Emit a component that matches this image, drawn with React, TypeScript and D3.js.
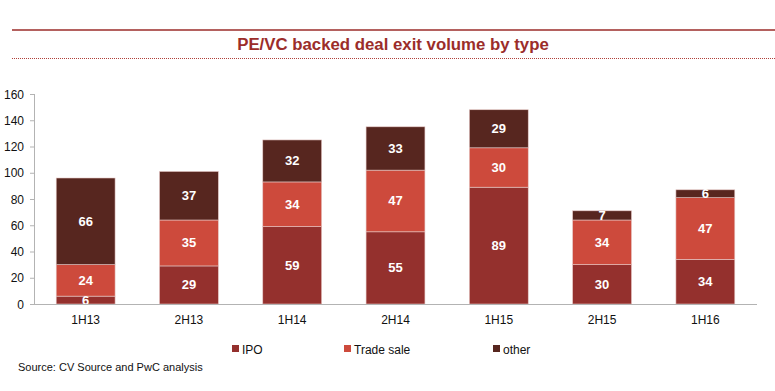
import React from "react";
import * as d3 from "d3";

const categories = ["1H13", "2H13", "1H14", "2H14", "1H15", "2H15", "1H16"];
const ipo = [6, 29, 59, 55, 89, 30, 34];
const tradeSale = [24, 35, 34, 47, 30, 34, 47];
const other = [66, 37, 32, 33, 29, 7, 6];
const seriesNames = ["IPO", "Trade sale", "other"];
const seriesColors = ["#94302D", "#CD4A3C", "#57261F"];
const yTicks = [0, 20, 40, 60, 80, 100, 120, 140, 160];

export default function App() {
  const W = 775, H = 391;
  const x = d3.scaleBand<string>().domain(categories).range([34, 757]).paddingInner(0.43).paddingOuter(0.215);
  const y = d3.scaleLinear().domain([0, 160]).range([304, 94]);
  const rows = categories.map((c, i) => ({ cat: c, IPO: ipo[i], "Trade sale": tradeSale[i], other: other[i] }));
  const stack = d3.stack<any>().keys(seriesNames)(rows);
  const font = "'Liberation Sans', Arial, sans-serif";
  const legendX = [236, 348, 497];
  return (
    <svg width={W} height={H} style={{ position: "absolute", left: 0, top: 0, fontFamily: font }}>
      <line x1={12} x2={775} y1={30} y2={30} stroke="#9B2D2A" strokeWidth={1.5} />
      <text x={393} y={50} textAnchor="middle" fontSize={16.8} fontWeight="bold" fill="#9B2D2A">PE/VC backed deal exit volume by type</text>
      <line x1={12} x2={775} y1={58.5} y2={58.5} stroke="#B0403A" strokeWidth={1} strokeDasharray="1,1" />
      {stack.map((s, si) => (
        <g key={si}>
          {s.map((d, i) => (
            <g key={i}>
              <rect x={x(categories[i])} y={y(d[1])} width={x.bandwidth()} height={y(d[0]) - y(d[1])}
                fill={seriesColors[si]} stroke="#E6C9C6" strokeWidth={0.6} />
            </g>
          ))}
        </g>
      ))}
      {stack.map((s, si) => (
        <g key={"l" + si}>
          {s.map((d, i) => (
            <text key={i} x={(x(categories[i]) as number) + x.bandwidth() / 2} y={(y(d[0]) + y(d[1])) / 2 + 4.5}
              textAnchor="middle" fontSize={13} fontWeight="bold" fill="#fff">{d[1] - d[0]}</text>
          ))}
        </g>
      ))}
      <line x1={34.5} x2={34.5} y1={94} y2={304} stroke="#B3B3B3" />
      <line x1={34} x2={757} y1={304.5} y2={304.5} stroke="#B3B3B3" />
      {yTicks.map((t) => (
        <g key={t}>
          <line x1={30} x2={34} y1={y(t) + 0.5} y2={y(t) + 0.5} stroke="#B3B3B3" />
          <text x={24} y={y(t) + 4.5} textAnchor="end" fontSize={12} fill="#111">{t}</text>
        </g>
      ))}
      {categories.map((c) => (
        <text key={c} x={(x(c) as number) + x.bandwidth() / 2} y={324} textAnchor="middle" fontSize={12} fill="#111">{c}</text>
      ))}
      {seriesNames.map((n, i) => (
        <g key={n}>
          <rect x={legendX[i] - 4} y={345} width={7} height={7} fill={seriesColors[i]} />
          <text x={legendX[i] + 6} y={354} fontSize={12} fill="#111">{n}</text>
        </g>
      ))}
      <text x={18} y={371} fontSize={11} fill="#111">Source: CV Source and PwC analysis</text>
    </svg>
  );
}
